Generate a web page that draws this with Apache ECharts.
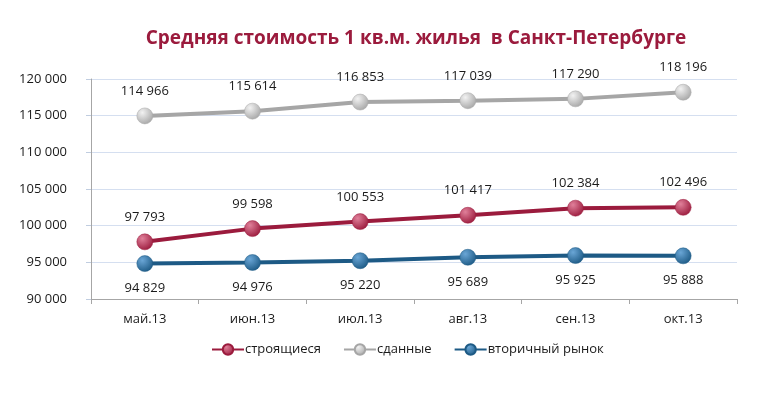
<!DOCTYPE html>
<html><head><meta charset="utf-8">
<script src="https://cdn.jsdelivr.net/npm/echarts@6/dist/echarts.min.js"></script>
<style>html,body{margin:0;padding:0;background:#fff}#c{width:770px;height:394px}</style>
</head><body><div id="c"></div>
<script>
const categories = ['май.13','июн.13','июл.13','авг.13','сен.13','окт.13'];
const building = [97793, 99598, 100553, 101417, 102384, 102496];
const finished = [114966, 115614, 116853, 117039, 117290, 118196];
const secondary = [94829, 94976, 95220, 95689, 95925, 95888];
const seriesNames = ['строящиеся','сданные','вторичный рынок'];

const fmt = v => String(v).replace(/\B(?=(\d{3})+(?!\d))/g, '\u00a0');
const font = '"Open Sans", "Noto Sans", sans-serif';
function grad(light, dark){
  return new echarts.graphic.RadialGradient(0.35,0.3,0.75,[{offset:0,color:light},{offset:1,color:dark}]);
}
function mk(name, data, color, light, pos){
  return {
    name, type:'line', data, symbol:'circle', symbolSize:16,
    lineStyle:{color, width:4},
    itemStyle:{color:grad(light,color), borderColor:color, borderWidth:0.5},
    label:{show:true, position:pos, distance:10, formatter:p=>fmt(p.value), color:'#1a1a1a', fontSize:13, fontFamily:font},
    emphasis:{disabled:true}, animation:false
  };
}
const chart = echarts.init(document.getElementById('c'));
chart.setOption({
  animation:false,
  color:['#9b1b3d','#a6a6a6','#1d5a85'],
  title:{text:'Средняя стоимость 1 кв.м. жилья  в Санкт-Петербурге', left:411, textAlign:'center', top:24,
    textStyle:{color:'#9b1b3d', fontSize:19, fontWeight:'bold', fontFamily:font}},
  grid:{left:91, right:33, top:79, bottom:95},
  legend:{bottom:33, left:206, itemWidth:32, itemHeight:13, itemGap:22,
    textStyle:{fontSize:13, color:'#1a1a1a', fontFamily:font, padding:[0,0,0,-4]},
    data:seriesNames},
  xAxis:{type:'category', data:categories, boundaryGap:true,
    axisLine:{lineStyle:{color:'#a6a6a6'}},
    axisTick:{show:true, length:5, lineStyle:{color:'#a6a6a6'}},
    axisLabel:{color:'#1a1a1a', fontSize:13, margin:14, fontFamily:font}},
  yAxis:{type:'value', min:90000, max:120000, interval:5000,
    axisLine:{show:true, lineStyle:{color:'#a6a6a6'}},
    axisTick:{show:true, length:5, lineStyle:{color:'#c0cde0'}},
    axisLabel:{color:'#1a1a1a', fontSize:13, margin:24, formatter:v=>fmt(v), fontFamily:font},
    splitLine:{lineStyle:{color:'#d5dff0'}}},
  series:[
    mk(seriesNames[0], building, '#9b1b3d', '#e0809a', 'top'),
    mk(seriesNames[1], finished, '#a6a6a6', '#f2f2f2', 'top'),
    mk(seriesNames[2], secondary, '#1d5a85', '#6aa6d6', 'bottom')
  ]
});
</script></body></html>
